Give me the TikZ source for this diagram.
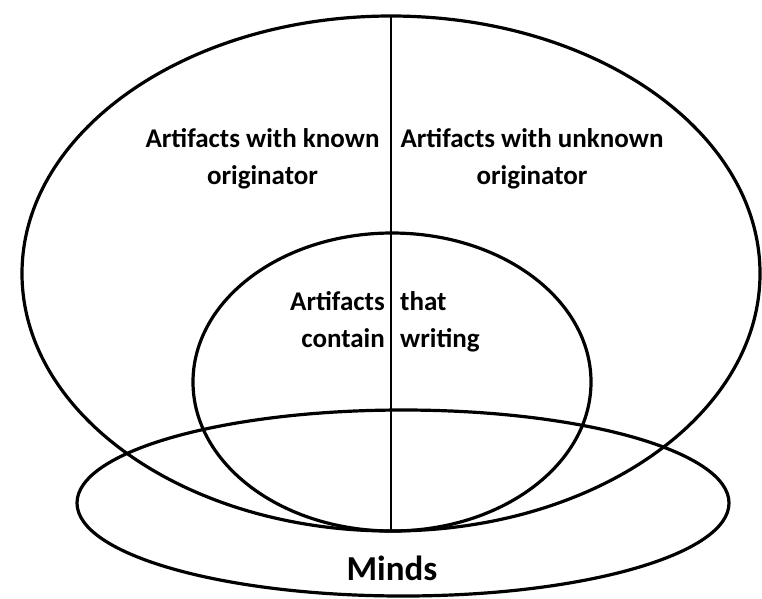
\documentclass[tikz,border=0pt]{standalone}
\usepackage{fontspec}
\setmainfont{Carlito}
\usetikzlibrary{shapes.geometric}
\begin{document}
\begin{tikzpicture}[x=1pt,y=-1pt,
  ring/.style={ellipse, draw=black, line width=3.2pt, inner sep=0pt, outer sep=0pt},
  lbl/.style={font=\fontsize{27}{37}\selectfont\bfseries, inner sep=0pt, anchor=base},
  divider/.style={draw=black, line width=1.8pt}]
\useasboundingbox (0,0) rectangle (762,598);
\node[ring, minimum width=738pt, minimum height=515pt] (big) at (391,273.5) {};
\node[ring, minimum width=398pt, minimum height=298pt] (inner) at (392,382) {};
\node[ring, minimum width=652pt, minimum height=186pt] (minds) at (403,503) {};
\draw[divider] (big.north) -- (big.south);
\node[lbl, align=center] (known) at (262.5,184) {Artifacts with known\\originator};
\node[lbl, align=center] (unknown) at (532,184) {Artifacts with unknown\\originator};
\node[lbl, align=right, anchor=base east] (contain) at (385,347) {Artifacts\\contain};
\node[lbl, align=left, anchor=base west] (writing) at (400,347) {that\\writing};
\node[font=\fontsize{35}{37}\selectfont\bfseries, inner sep=0pt, anchor=base] (mindslbl) at (392,580) {Minds};
\end{tikzpicture}
\end{document}
